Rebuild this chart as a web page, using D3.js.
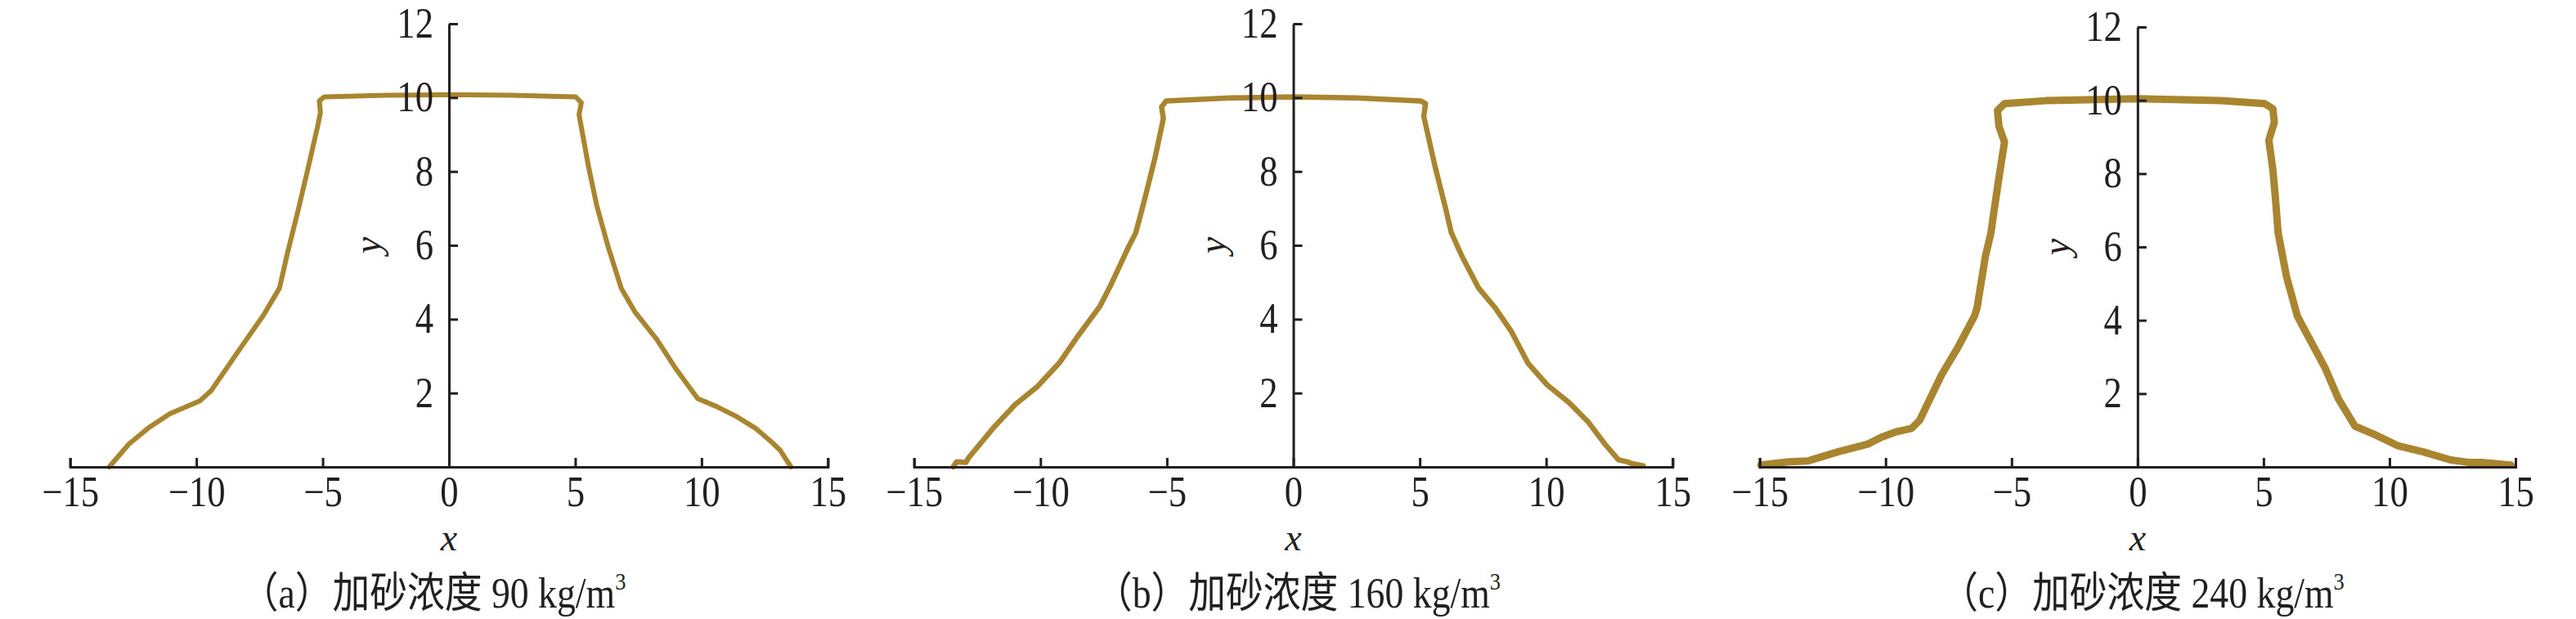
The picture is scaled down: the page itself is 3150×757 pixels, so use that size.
<!DOCTYPE html>
<html>
<head>
<meta charset="utf-8">
<script src="https://cdn.jsdelivr.net/npm/d3@7"></script>
<style>
  body { margin: 0; background: #fff; }
  svg text { font-family: "Liberation Serif", "Times New Roman", "Noto Sans CJK SC", serif; fill: #231f20; }
</style>
</head>
<body>
<svg id="chart" width="3150" height="757"></svg>
<script>
// profile curves, [x, y]
var curveA = [
  [-13.45, 0], [-12.67, 0.62], [-11.91, 1.05], [-11.05, 1.44], [-9.86, 1.79], [-9.42, 2.06],
  [-8.23, 3.24], [-7.36, 4.09], [-6.71, 4.84], [-6.39, 5.80], [-5.96, 6.98], [-5.52, 8.26],
  [-5.20, 9.22], [-5.09, 9.59], [-5.13, 9.91], [-4.94, 10.02], [-2.5, 10.06], [0, 10.08],
  [2.5, 10.06], [5.02, 10.02], [5.24, 9.86], [5.15, 9.54], [5.52, 8.15], [5.85, 7.08],
  [6.28, 6.01], [6.82, 4.84], [7.36, 4.20], [8.23, 3.45], [8.99, 2.65], [9.85, 1.85],
  [10.61, 1.63], [11.37, 1.37], [12.13, 1.05], [12.78, 0.67], [13.10, 0.46], [13.54, 0]
];
var curveB = [
  [-13.45, 0], [-13.32, 0.14], [-12.95, 0.12], [-12.84, 0.25], [-11.87, 1.05], [-11.0, 1.69],
  [-10.13, 2.17], [-9.26, 2.81], [-8.50, 3.56], [-7.64, 4.36], [-7.20, 4.95], [-6.55, 5.91],
  [-6.23, 6.34], [-5.90, 7.19], [-5.47, 8.37], [-5.14, 9.43], [-5.21, 9.75], [-5.03, 9.91],
  [-2.5, 9.99], [0, 10.02], [2.5, 9.99], [5.03, 9.91], [5.23, 9.84], [5.16, 9.49],
  [5.60, 8.15], [6.03, 6.98], [6.25, 6.34], [6.68, 5.69], [7.33, 4.84], [7.98, 4.31],
  [8.63, 3.66], [9.28, 2.81], [10.04, 2.22], [10.91, 1.74], [11.67, 1.21], [12.32, 0.62],
  [12.86, 0.19], [13.19, 0.14], [13.40, 0.09], [13.84, 0.03]
];
var curveC = [
  [-14.95, 0.05], [-13.86, 0.14], [-13.1, 0.16], [-11.9, 0.41], [-10.71, 0.62], [-10.17, 0.81],
  [-9.62, 0.95], [-8.97, 1.05], [-8.65, 1.27], [-7.78, 2.51], [-7.13, 3.26], [-6.47, 4.12],
  [-6.37, 4.34], [-6.04, 5.74], [-5.82, 6.38], [-5.71, 6.92], [-5.50, 7.89], [-5.28, 8.86],
  [-5.50, 9.29], [-5.56, 9.72], [-5.28, 9.91], [-3.65, 9.99], [0, 10.04], [3.3, 9.99],
  [5.05, 9.91], [5.37, 9.77], [5.43, 9.40], [5.21, 8.91], [5.37, 8.11], [5.47, 7.35],
  [5.58, 6.38], [5.91, 5.20], [6.34, 4.12], [6.67, 3.69], [7.43, 2.72], [7.97, 1.86],
  [8.63, 1.11], [9.39, 0.89], [10.36, 0.57], [11.34, 0.41], [12.43, 0.19], [13.19, 0.12],
  [13.73, 0.12], [14.82, 0.05]
];

var xTicks = [-15, -10, -5, 0, 5, 10, 15];
var yTicks = [2, 4, 6, 8, 10, 12];
var captionLabels = ["（a）加砂浓度 90 kg/m", "（b）加砂浓度 160 kg/m", "（c）加砂浓度 240 kg/m"];

var svg = d3.select("#chart");
var squeeze = 0.86;   // the printed digits are narrow

var panels = [
  {data: curveA, left: 85.7,   right: 1012.3, top: 29, bottom: 571, lw: 6,   capX: 530},
  {data: curveB, left: 1117.7, right: 2045.3, top: 29, bottom: 571, lw: 6.5, capX: 1587},
  {data: curveC, left: 2151.7, right: 3076,   top: 33, bottom: 571, lw: 9,   capX: 2620}
];

panels.forEach(function(p, i) {
  var x = d3.scaleLinear().domain([-15, 15]).range([p.left, p.right]);
  var y = d3.scaleLinear().domain([0, 12]).range([p.bottom, p.top]);
  var g = svg.append("g");

  var line = d3.line()
               .x(d => x(d[0]))
               .y(d => y(d[1]));

  g.append("path")
   .datum(p.data)
   .attr("d", line)
   .attr("fill", "none")
   .attr("stroke", "#a8852e")
   .attr("stroke-width", p.lw)
   .attr("stroke-linejoin", "round")
   .attr("stroke-linecap", "round");

  // x axis along y = 0
  var xAxis = g.append("g")
               .attr("transform", "translate(0," + y(0) + ")")
               .call(d3.axisBottom(x).tickValues(xTicks).tickSizeInner(-11).tickSizeOuter(-11)
                       .tickFormat(d => d < 0 ? "\u2212" + Math.abs(d) : d));
  xAxis.attr("font-family", null).attr("font-size", null);
  xAxis.selectAll("text")
       .attr("x", 0).attr("y", 48).attr("dy", 0)
       .attr("transform", "scale(" + squeeze + ",1)")
       .style("font-size", "52px");

  // y axis through x = 0
  var yAxis = g.append("g")
               .attr("transform", "translate(" + x(0) + ",0)")
               .call(d3.axisLeft(y).tickValues(yTicks).tickSizeInner(-11).tickSizeOuter(0));
  yAxis.attr("font-family", null).attr("font-size", null);
  yAxis.selectAll("text")
       .attr("x", -19 / squeeze)
       .attr("transform", "scale(" + squeeze + ",1)")
       .style("font-size", "52px");

  g.selectAll(".domain, .tick line").attr("stroke", "#231f20").attr("stroke-width", 3);
  g.selectAll(".tick text").attr("fill", "#231f20");

  g.append("text")
   .attr("x", x(0))
   .attr("y", 673)
   .attr("text-anchor", "middle")
   .style("font-size", "46px")
   .style("font-style", "italic")
   .text("x");

  g.append("text")
   .attr("transform", "translate(" + (x(0) - 84) + "," + y(6) + ") rotate(-90)")
   .attr("text-anchor", "middle")
   .style("font-size", "46px")
   .style("font-style", "italic")
   .text("y");

  var cap = g.append("text")
             .attr("transform", "scale(0.88,1)")
             .attr("x", p.capX / 0.88)
             .attr("y", 743)
             .attr("text-anchor", "middle")
             .style("font-size", "52px");
  cap.append("tspan").text(captionLabels[i]);
  cap.append("tspan").attr("dy", -22).style("font-size", "30px").text("3");
});
</script>
</body>
</html>
